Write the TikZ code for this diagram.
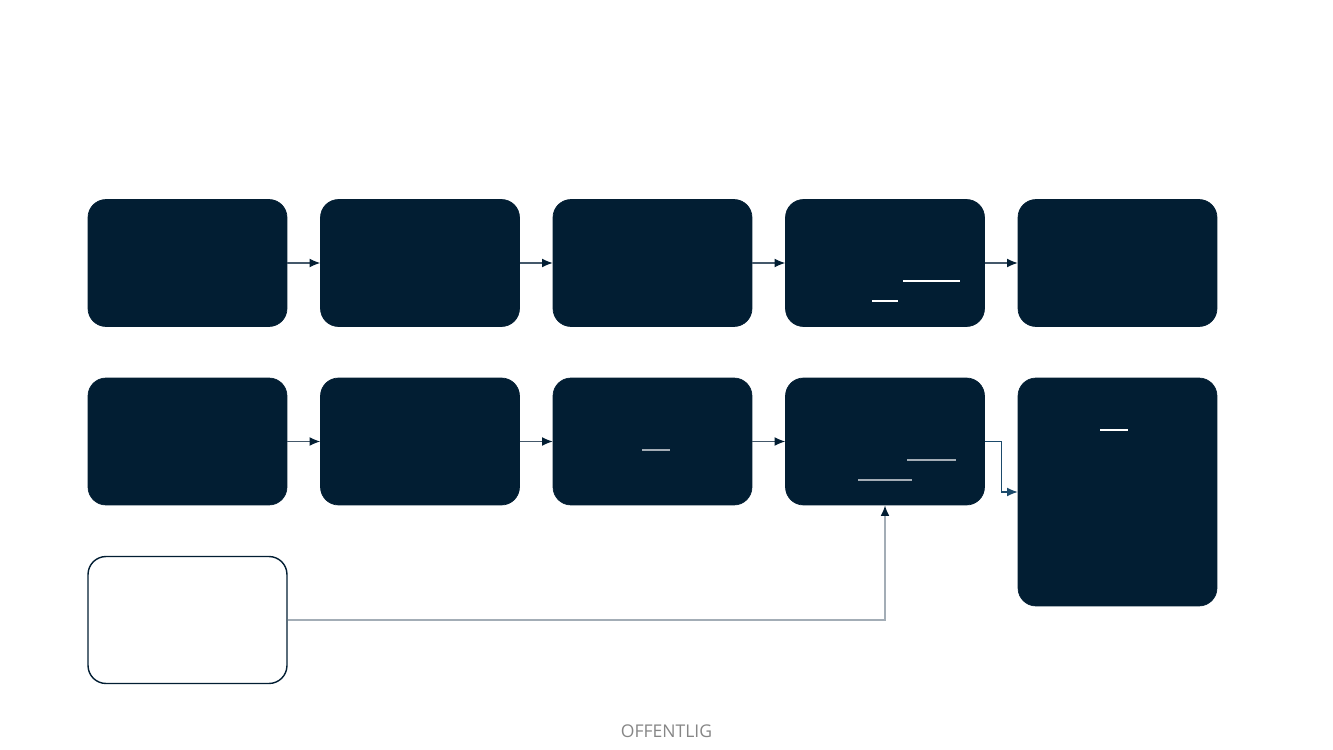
\documentclass[tikz,border=0pt]{standalone}
\usepackage{fontspec}
\setmainfont{Open Sans}
\usetikzlibrary{arrows.meta}
\definecolor{navy}{HTML}{021E33}
\definecolor{linkgray}{HTML}{44586A}
\definecolor{elbowblue}{HTML}{1B4A6B}
\definecolor{ulgray}{HTML}{A3ADB6}
\begin{document}
\begin{tikzpicture}[x=0.02cm,y=-0.02cm,
		box/.style={fill=navy,draw=navy,rounded corners=0.36cm,minimum width=3.98cm,minimum height=2.54cm,inner sep=0pt},
		link/.style={draw=linkgray,line width=0.6pt,-{Latex[length=6pt,width=5pt,color=navy]}}]
		\useasboundingbox (0,0) rectangle (1333,750);

		\foreach \i in {1,...,5} {
				\node[box] (a\i) at ({187.5+232.5*(\i-1)},263) {};
			}
		\foreach \i in {1,...,4} {
				\node[box] (b\i) at ({187.5+232.5*(\i-1)},441.5) {};
			}
		\node[box,minimum height=4.56cm] (b5) at (1117.5,492) {};
		\node[box,fill=white,line width=0.8pt] (src) at (187.5,620) {};

		\foreach \i/\j in {1/2,2/3,3/4,4/5} {
				\draw[link] (a\i) -- (a\j);
			}
		\foreach \i/\j in {1/2,2/3,3/4} {
				\draw[link] (b\i) -- (b\j);
			}
		\draw[link,draw=elbowblue,-{Latex[length=6pt,width=5pt,color=elbowblue]}] (b4.east) -- ++(17,0) |- (b5.west);
		\draw[link,draw=ulgray,line width=0.9pt] (src.east) -| (b4.south);

		% underlines
		\draw[white,line width=0.8pt] (903,281) -- (960,281) (872,301) -- (898,301);
		\draw[white,line width=0.8pt] (1100,430) -- (1128,430);
		\draw[ulgray,line width=0.8pt] (907,460) -- (956,460) (858,480) -- (912,480);
		\draw[ulgray,line width=0.8pt] (642,450) -- (670,450);

		\node[text=gray!95,font=\fontsize{10}{12}\selectfont] (tag) at (666.5,731) {OFFENTLIG};
	\end{tikzpicture}
\end{document}
